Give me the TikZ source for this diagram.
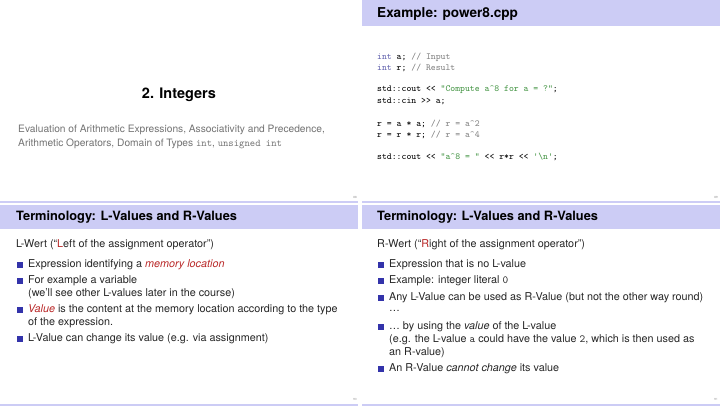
\documentclass[tikz,border=0pt]{standalone}
\usepackage{fontspec}
\setmainfont{TeX Gyre Heros}
\setsansfont{TeX Gyre Heros}
\definecolor{band}{RGB}{204,204,245}
\definecolor{bul}{RGB}{51,51,170}
\definecolor{red}{RGB}{185,40,40}
\definecolor{kw}{RGB}{100,100,175}
\definecolor{cm}{RGB}{130,130,130}
\definecolor{st}{RGB}{70,150,70}
\begin{document}
\begin{tikzpicture}[x=1pt,y=-1pt,
  title/.style={anchor=west,font=\bfseries\fontsize{12.8}{13}\selectfont,inner sep=0},
  txt/.style={anchor=west,font=\fontsize{10.8}{11}\selectfont,inner sep=0,text=black!85},
  code/.style={anchor=west,font=\ttfamily\fontsize{9.3}{9}\selectfont,inner sep=0},
  bsq/.style={fill=bul,minimum size=6pt,inner sep=0},
  pg/.style={font=\fontsize{3}{3}\selectfont,text=black!40,inner sep=0}]
\useasboundingbox (0,0) rectangle (720,406);
\fill[white] (0,0) rectangle (720,406);
% bands
\fill[band] (362,0) rectangle (720,26);
\fill[band] (0,205) rectangle (358,229);
\fill[band] (362,205) rectangle (720,229);
\fill[band] (0,201) rectangle (358,203);
\fill[band] (362,201) rectangle (720,203);
\fill[band] (0,404) rectangle (358,406);
\fill[band] (362,404) rectangle (720,406);
% slide 1
\node[anchor=center,font=\bfseries\fontsize{14.5}{15}\selectfont,inner sep=0] (t1) at (179,95) {2. Integers};
\node[anchor=west,font=\fontsize{10.2}{10}\selectfont,text=black!55,inner sep=0] (s1) at (18,130) {Evaluation of Arithmetic Expressions, Associativity and Precedence,};
\node[anchor=west,font=\fontsize{10.2}{10}\selectfont,text=black!55,inner sep=0] (s2) at (18,144) {Arithmetic Operators, Domain of Types \texttt{int}, \texttt{unsigned int}};
\node[pg] (p1) at (355,197) {88};
% slide 2
\node[title,font=\bfseries\fontsize{13.6}{13}\selectfont] (t2) at (377,14) {Example: power8.cpp};
\node[code] (c1) at (377,57) {\textcolor{kw}{int} a; \textcolor{cm}{// Input}};
\node[code] (c2) at (377,68) {\textcolor{kw}{int} r; \textcolor{cm}{// Result}};
\node[code] (c3) at (377,90) {std::cout << \textcolor{st}{"Compute a\string^8 for a = ?"};};
\node[code] (c4) at (377,101) {std::cin >> a;};
\node[code] (c5) at (377,124) {r = a * a; \textcolor{cm}{// r = a\string^2}};
\node[code] (c6) at (377,135) {r = r * r; \textcolor{cm}{// r = a\string^4}};
\node[code] (c7) at (377,157) {std::cout << \textcolor{st}{"a\string^8 = "} << r*r << \textcolor{st}{'\string\n'};};
\node[pg] (p2) at (716,197) {89};
% slide 3
\node[title] (t3) at (16,217) {Terminology: L-Values and R-Values};
\node[txt] (l0) at (16,245) {L-Wert (``\textcolor{red}{L}eft of the assignment operator'')};
\node[bsq] (b1) at (20,265) {};
\node[txt] (l1) at (28,265) {Expression identifying a \textcolor{red}{\itshape memory location}};
\node[bsq] (b2) at (20,281) {};
\node[txt] (l2) at (28,281) {For example a variable};
\node[txt] (l2b) at (28,294) {(we'll see other L-values later in the course)};
\node[bsq] (b3) at (20,310) {};
\node[txt] (l3) at (28,310) {\textcolor{red}{\itshape Value} is the content at the memory location according to the type};
\node[txt] (l3b) at (28,323) {of the expression.};
\node[bsq] (b4) at (20,339) {};
\node[txt] (l4) at (28,339) {L-Value can change its value (e.g. via assignment)};
\node[pg] (p3) at (355,399) {90};
% slide 4
\node[title] (t4) at (377,217) {Terminology: L-Values and R-Values};
\node[txt] (r0) at (377,245) {R-Wert (``\textcolor{red}{R}ight of the assignment operator'')};
\node[bsq] (d1) at (381,265) {};
\node[txt] (r1) at (389,265) {Expression that is no L-value};
\node[bsq] (d2) at (381,281) {};
\node[txt] (r2) at (389,281) {Example: integer literal \texttt{0}};
\node[bsq] (d3) at (381,298) {};
\node[txt] (r3) at (389,298) {Any L-Value can be used as R-Value (but not the other way round)};
\node[txt] (r3b) at (389,311) {\dots};
\node[bsq] (d4) at (381,327) {};
\node[txt] (r4) at (389,327) {\dots\ by using the \textit{value} of the L-value};
\node[txt] (r4b) at (389,340) {(e.g. the L-value \texttt{a} could have the value \texttt{2}, which is then used as};
\node[txt] (r4c) at (389,353) {an R-value)};
\node[bsq] (d5) at (381,369) {};
\node[txt] (r5) at (389,369) {An R-Value \textit{cannot change} its value};
\node[pg] (p4) at (716,399) {91};
\end{tikzpicture}
\end{document}
